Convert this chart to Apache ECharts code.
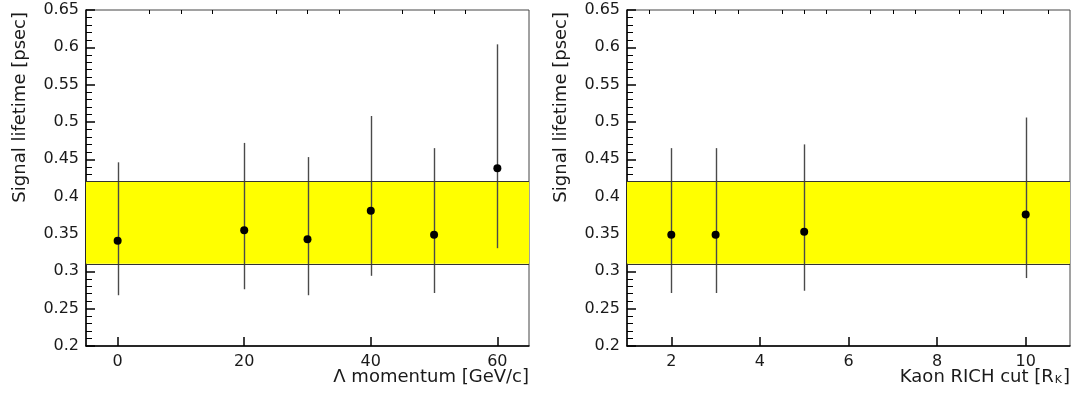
<!DOCTYPE html>
<html>
<head>
<meta charset="utf-8">
<script src="https://cdn.jsdelivr.net/npm/echarts@6/dist/echarts.min.js"></script>
<style>
  html, body { margin: 0; padding: 0; background: #ffffff; }
  #chart { width: 1072px; height: 396px; }
</style>
</head>
<body>
<div id="chart"></div>
<script>
// Signal lifetime as a function of the Λ momentum cut
const momentumCuts     = [0, 20, 30, 40, 50, 60];
const momentumLifetime = [0.341, 0.355, 0.343, 0.381, 0.349, 0.438];
const momentumErrLow   = [0.268, 0.276, 0.268, 0.294, 0.271, 0.331];
const momentumErrHigh  = [0.446, 0.472, 0.453, 0.508, 0.465, 0.604];

// Signal lifetime as a function of the kaon RICH cut
const richCuts     = [2, 3, 5, 10];
const richLifetime = [0.349, 0.349, 0.353, 0.376];
const richErrLow   = [0.271, 0.271, 0.274, 0.291];
const richErrHigh  = [0.465, 0.465, 0.470, 0.506];

// Reference lifetime band
const bandLow  = 0.31;
const bandHigh = 0.42;

// Tick positions
const momentumMajorTicks = [0, 20, 40, 60];
const momentumMinorTicks = [5, 10, 15, 25, 30, 35, 45, 50, 55];
const richMajorTicks = [2, 4, 6, 8, 10];
const richMinorTicks = [1.5, 2.5, 3, 3.5, 4.5, 5, 5.5, 6.5, 7, 7.5, 8.5, 9, 9.5, 10.5];

const FONT = 'DejaVu Sans';
const TEXT_COLOR = '#1a1a1a';

const chart = echarts.init(document.getElementById('chart'), null, { renderer: 'canvas' });

function mainXAxis(grid, min, max, ticks, name, rich) {
  return {
    type: 'value', gridIndex: grid, min: min, max: max,
    name: name, nameLocation: 'end', nameGap: 0,
    nameMoveOverlap: false,
    nameTextStyle: {
      fontFamily: FONT, fontSize: 18, color: TEXT_COLOR,
      align: 'right', verticalAlign: 'top', padding: [22, 0, 0, 0],
      rich: rich
    },
    axisLine: { show: true, onZero: false, lineStyle: { color: '#000', width: 1.5 } },
    axisTick: { show: true, inside: true, length: 9, customValues: ticks,
                lineStyle: { color: '#000', width: 1.5 } },
    axisLabel: { show: true, customValues: ticks, margin: 8,
                 fontFamily: FONT, fontSize: 16, color: TEXT_COLOR },
    splitLine: { show: false }
  };
}

function minorXAxis(grid, min, max, ticks) {
  return {
    type: 'value', gridIndex: grid, min: min, max: max,
    axisLine: { show: false, onZero: false },
    axisTick: { show: true, inside: true, length: 4, customValues: ticks,
                lineStyle: { color: '#000', width: 1 } },
    axisLabel: { show: false },
    splitLine: { show: false }
  };
}

function lifetimeYAxis(grid) {
  return {
    type: 'value', gridIndex: grid, min: 0.2, max: 0.65, interval: 0.05,
    name: 'Signal lifetime [psec]', nameLocation: 'end', nameRotate: 90, nameGap: -2,
    nameMoveOverlap: false,
    nameTextStyle: {
      fontFamily: FONT, fontSize: 18, color: TEXT_COLOR,
      align: 'right', verticalAlign: 'bottom', padding: [0, 0, 57, 0]
    },
    axisLine: { show: true, onZero: false, lineStyle: { color: '#000', width: 1.5 } },
    axisTick: { show: true, inside: true, length: 9, lineStyle: { color: '#000', width: 1.5 } },
    minorTick: { show: true, splitNumber: 5, length: 6, lineStyle: { color: '#000', width: 1 } },
    axisLabel: { show: true, margin: 7, fontFamily: FONT, fontSize: 16, color: TEXT_COLOR },
    splitLine: { show: false },
    minorSplitLine: { show: false }
  };
}

function bandSeries(xIdx, yIdx) {
  return {
    type: 'line', xAxisIndex: xIdx, yAxisIndex: yIdx, data: [], z: 1, silent: true,
    markArea: {
      silent: true,
      itemStyle: { color: '#ffff00', opacity: 1 },
      data: [[{ yAxis: bandLow }, { yAxis: bandHigh }]]
    },
    markLine: {
      silent: true, symbol: 'none', animation: false,
      label: { show: false },
      lineStyle: { color: '#333', type: 'solid', width: 1 },
      data: [{ yAxis: bandLow }, { yAxis: bandHigh }]
    }
  };
}

function errorSeries(xIdx, yIdx, xs, lo, hi) {
  return {
    type: 'custom', xAxisIndex: xIdx, yAxisIndex: yIdx, z: 3, silent: true,
    data: xs.map((x, i) => [x, lo[i], hi[i]]),
    renderItem: function (params, api) {
      const a = api.coord([api.value(0), api.value(1)]);
      const b = api.coord([api.value(0), api.value(2)]);
      const x = Math.round(a[0]) + 0.5;
      return {
        type: 'line',
        shape: { x1: x, y1: a[1], x2: x, y2: b[1] },
        style: { stroke: '#4a4a4a', lineWidth: 1.4 }
      };
    }
  };
}

function pointSeries(xIdx, yIdx, xs, ys) {
  return {
    type: 'scatter', xAxisIndex: xIdx, yAxisIndex: yIdx, z: 4, silent: true,
    symbol: 'circle', symbolSize: 8,
    itemStyle: { color: '#000', opacity: 1 },
    data: xs.map((x, i) => [x, ys[i]])
  };
}

const gridBase = {
  top: 10, width: 443, height: 336, show: true,
  borderColor: '#444', borderWidth: 1, backgroundColor: 'transparent',
  containLabel: false, outerBoundsMode: 'none'
};

const option = {
  animation: false,
  backgroundColor: '#ffffff',
  grid: [
    Object.assign({ left: 86 }, gridBase),
    Object.assign({ left: 627 }, gridBase)
  ],
  xAxis: [
    mainXAxis(0, -5, 65, momentumMajorTicks, 'Λ momentum [GeV/c]'),
    minorXAxis(0, -5, 65, momentumMinorTicks),
    mainXAxis(1, 1, 11, richMajorTicks, 'Kaon RICH cut [R{sub|K}]', {
      sub: { fontFamily: FONT, fontSize: 11, color: TEXT_COLOR, verticalAlign: 'bottom', padding: [0, 1, 0, 1] }
    }),
    minorXAxis(1, 1, 11, richMinorTicks)
  ],
  yAxis: [lifetimeYAxis(0), lifetimeYAxis(1)],
  series: [
    bandSeries(0, 0),
    errorSeries(0, 0, momentumCuts, momentumErrLow, momentumErrHigh),
    pointSeries(0, 0, momentumCuts, momentumLifetime),
    bandSeries(2, 1),
    errorSeries(2, 1, richCuts, richErrLow, richErrHigh),
    pointSeries(2, 1, richCuts, richLifetime)
  ]
};

chart.setOption(option);
</script>
</body>
</html>
